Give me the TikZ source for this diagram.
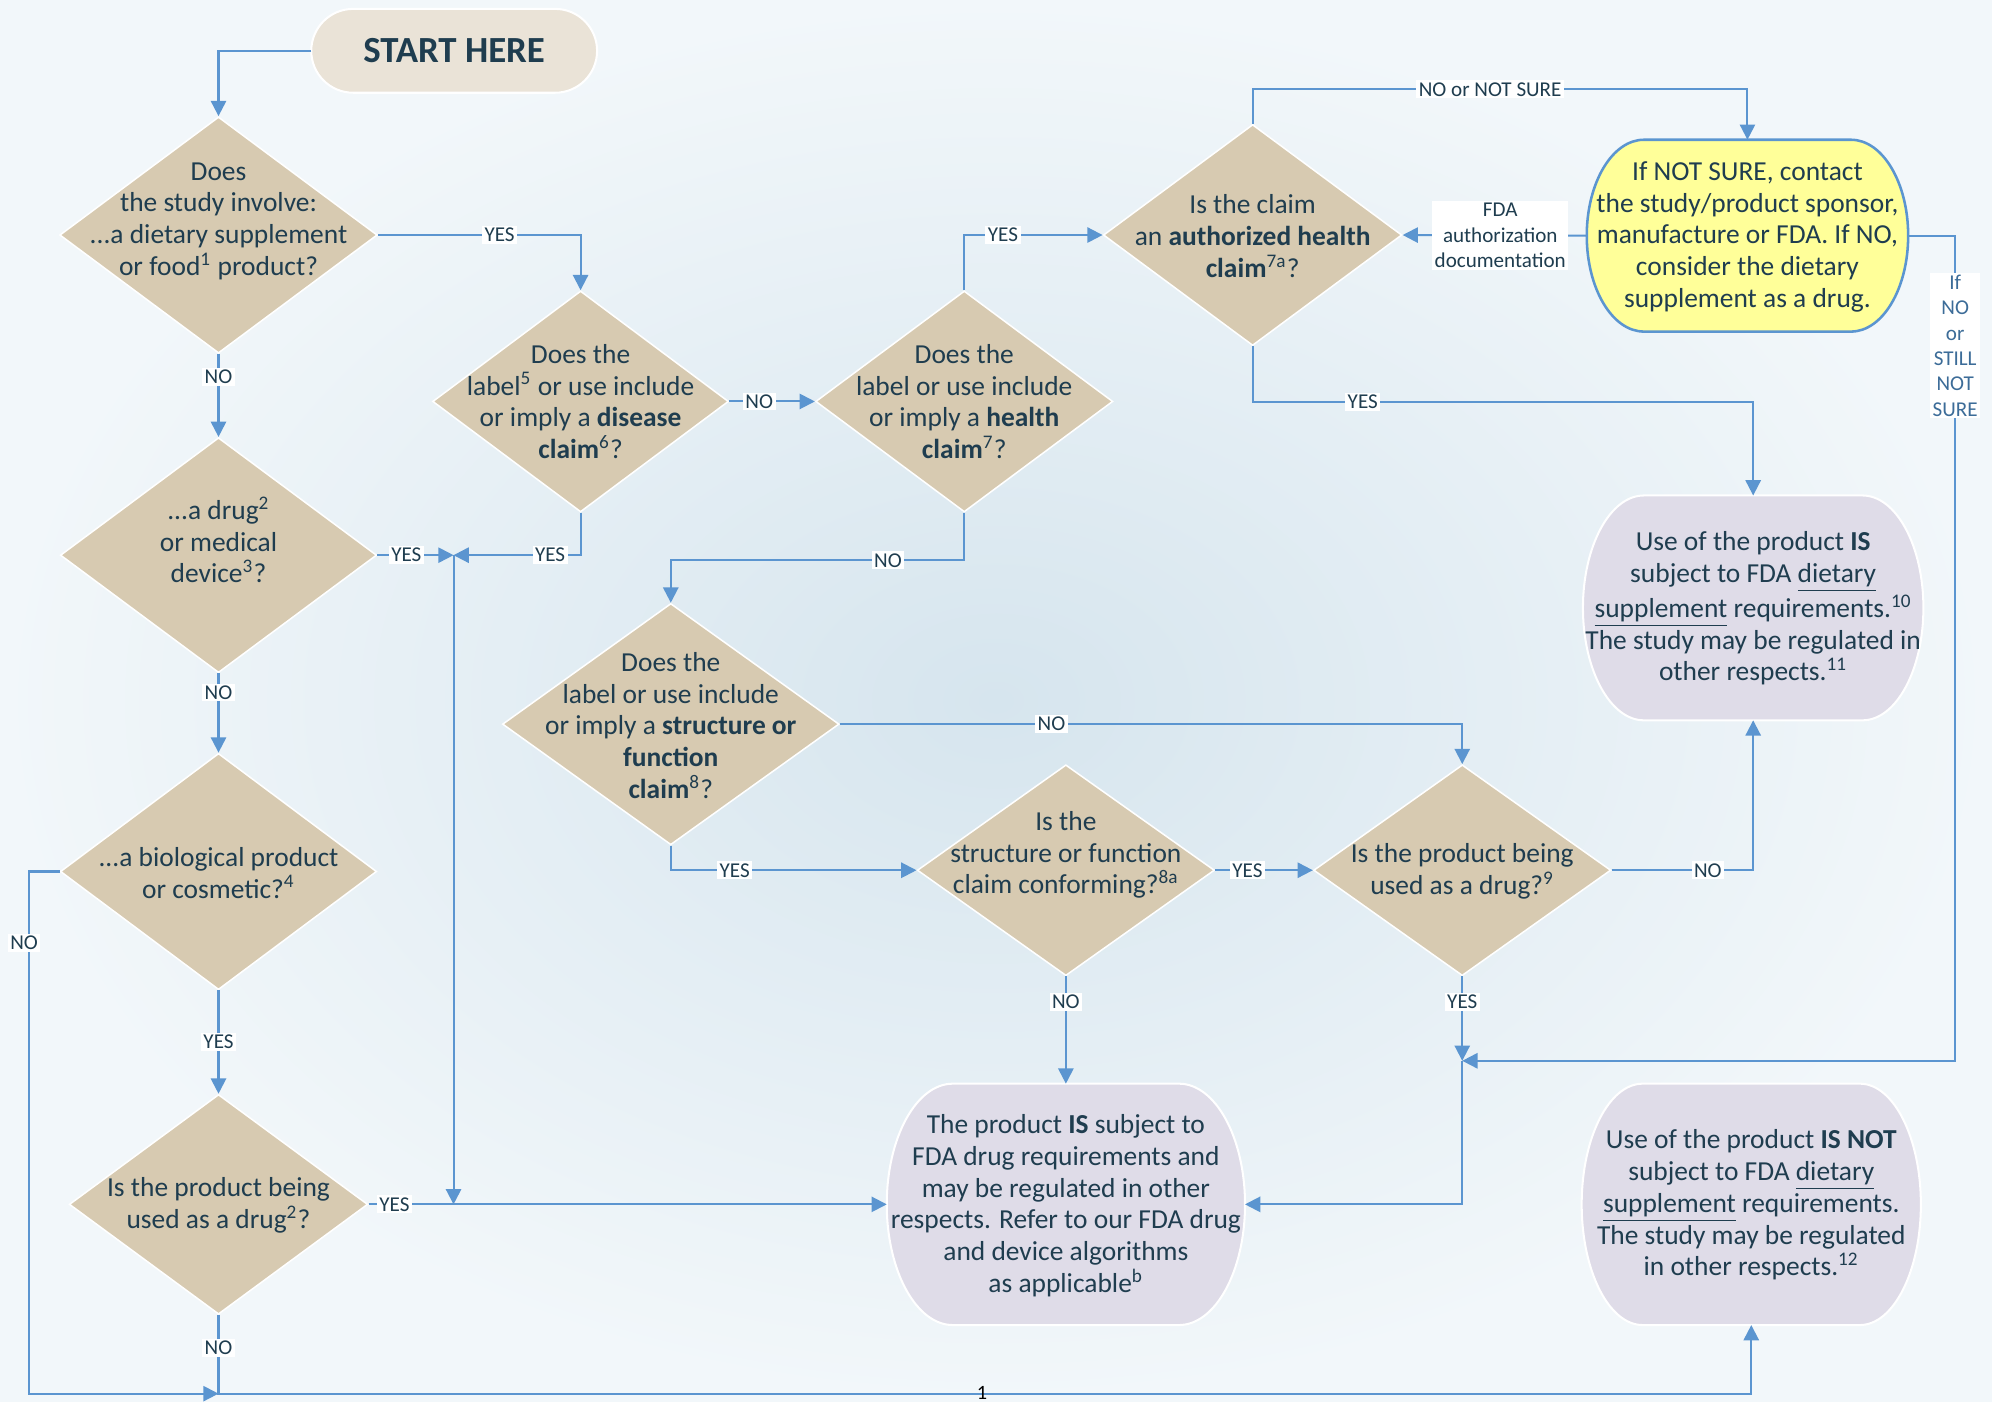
\documentclass[tikz,border=0pt]{standalone}
\usepackage{fontspec}
\setmainfont{Carlito}
\usetikzlibrary{shapes.geometric,arrows.meta,calc}
\definecolor{txtc}{HTML}{1F3D4F}
\definecolor{lnc}{HTML}{5B95D0}
\definecolor{tanc}{HTML}{D7CAB1}
\definecolor{startc}{HTML}{EAE3D7}
\definecolor{lavc}{HTML}{DFDCE8}
\definecolor{yelc}{HTML}{FFFF99}
\definecolor{bgin}{HTML}{D6E5EE}
\definecolor{bgout}{HTML}{F2F7FA}
\definecolor{lblue}{HTML}{3C6C98}
\newcommand\stadpath[6]{\path[#1] ({#2+#6},#3) -- ({#4-#6},#3) arc[start angle=-90,end angle=90,x radius=#6,y radius={(#5-#3)/2}] -- ({#2+#6},#5) arc[start angle=90,end angle=270,x radius=#6,y radius={(#5-#3)/2}] -- cycle;}
\begin{document}
\begin{tikzpicture}[x=0.5pt,y=-0.5pt,
  dia/.style={diamond, fill=tanc, draw=white, line width=0.6pt, inner sep=0pt},
  hold/.style={rectangle, inner sep=0pt, outer sep=0pt},
  txt/.style={align=center, text=txtc, inner sep=0pt, font=\fontsize{10.8}{12.5}\selectfont},
  lab/.style={fill=white, text=txtc, inner xsep=1pt, inner ysep=0.8pt, font=\fontsize{8.3}{10}\selectfont},
  arr/.style={draw=lnc, line width=0.8pt, -{Triangle[length=6pt,width=6pt]}}]
\useasboundingbox (0,0) rectangle (1568,1103);
\shade[inner color=bgin, outer color=bgout] (0,0) rectangle (1568,1103);

% stadium outlines
\stadpath{fill=startc, draw=white, line width=0.8pt}{245}{7}{470}{73}{33}
\stadpath{fill=yelc, draw=lnc, line width=1pt}{1249}{110}{1502}{261}{45}
\stadpath{fill=lavc, draw=white, line width=0.8pt}{1246}{390}{1514}{567}{48}
\stadpath{fill=lavc, draw=white, line width=0.8pt}{698}{853}{980}{1043}{52}
\stadpath{fill=lavc, draw=white, line width=0.8pt}{1245}{853}{1512}{1043}{48}

% holder nodes for ovals
\node[hold, minimum width=112.5pt, minimum height=33pt] (start) at (357.5,40) {};
\node[hold, minimum width=126.5pt, minimum height=75.5pt] (yel) at (1375.5,185.5) {};
\node[hold, minimum width=134pt, minimum height=88.5pt] (isds) at (1380,478.5) {};
\node[hold, minimum width=141pt, minimum height=95pt] (drug) at (839,948) {};
\node[hold, minimum width=133.5pt, minimum height=95pt] (isnot) at (1378.5,948) {};

% diamonds
\node[dia, minimum width=125pt, minimum height=93pt] (d1) at (172,185) {};
\node[dia, minimum width=124.5pt, minimum height=92.5pt] (d2) at (172,437) {};
\node[dia, minimum width=124.5pt, minimum height=93pt] (d3) at (172,686) {};
\node[dia, minimum width=117.5pt, minimum height=86.5pt] (d4) at (172,948) {};
\node[dia, minimum width=116.5pt, minimum height=87pt] (d5) at (457,316) {};
\node[dia, minimum width=117pt, minimum height=87pt] (d6) at (759,316) {};
\node[dia, minimum width=117.5pt, minimum height=87pt] (d7) at (986,185) {};
\node[dia, minimum width=132.5pt, minimum height=95pt] (d8) at (528,570) {};
\node[dia, minimum width=117pt, minimum height=83pt] (d9) at (839,685) {};
\node[dia, minimum width=117pt, minimum height=83pt] (d10) at (1151,685) {};

% texts
\node[txt, font=\bfseries\fontsize{14.5}{17}\selectfont] (startt) at (357.5,40) {START HERE};
\node[txt] (d1t) at (172,174) {Does\\the study involve:\\...a dietary supplement\\or food\textsuperscript{1} product?};
\node[txt] (d2t) at (172,425) {...a drug\textsuperscript{2}\\or medical\\device\textsuperscript{3}?};
\node[txt] (d3t) at (172,687) {...a biological product\\or cosmetic?\textsuperscript{4}};
\node[txt] (d4t) at (172,949) {Is the product being\\used as a drug\textsuperscript{2}?};
\node[txt] (d5t) at (457,316) {Does the\\label\textsuperscript{5} or use include\\or imply a \textbf{disease}\\\textbf{claim}\textsuperscript{6}?};
\node[txt] (d6t) at (759,316) {Does the\\label or use include\\or imply a \textbf{health}\\\textbf{claim}\textsuperscript{7}?};
\node[txt] (d7t) at (986,186) {Is the claim\\an \textbf{authorized health}\\\textbf{claim}\textsuperscript{7a}?};
\node[txt] (yelt) at (1375.5,186.5) {If NOT SURE, contact\\the study/product sponsor,\\manufacture or FDA. If NO,\\consider the dietary\\supplement as a drug.};
\node[txt] (isdst) at (1380,479) {Use of the product \textbf{IS}\\subject to FDA \underline{dietary}\\\underline{supplement} requirements.\textsuperscript{10}\\The study may be regulated in\\other respects.\textsuperscript{11}};
\node[txt] (d8t) at (528,571) {Does the\\label or use include\\or imply a \textbf{structure or}\\\textbf{function}\\\textbf{claim}\textsuperscript{8}?};
\node[txt] (d9t) at (839,673) {Is the\\structure or function\\claim conforming?\textsuperscript{8a}};
\node[txt] (d10t) at (1151,686) {Is the product being\\used as a drug?\textsuperscript{9}};
\node[txt] (drugt) at (839,949) {The product \textbf{IS} subject to\\FDA drug requirements and\\may be regulated in other\\respects. Refer to our FDA drug\\and device algorithms\\as applicable\textsuperscript{b}};
\node[txt] (isnott) at (1378.5,948.5) {Use of the product \textbf{IS NOT}\\subject to FDA \underline{dietary}\\\underline{supplement} requirements.\\The study may be regulated\\in other respects.\textsuperscript{12}};

% junctions
\coordinate (jn) at (357,437);
\coordinate (jv) at (357,948);
\coordinate (jb) at (172,1097);
\coordinate (jy) at (1151,835);
\coordinate (cm) at (528,441);

% connectors
\draw[arr] (start.west) -| (d1.north);
\draw[arr] (d1.east) -| node[lab,pos=0.3]{YES} (d5.north);
\draw[arr] (d1.south) -- node[lab,pos=0.28]{NO} (d2.north);
\draw[arr] (d2.east) -- node[lab,pos=0.38]{YES} (jn);
\draw[arr] (d5.south) |- node[lab,pos=0.62]{YES} (jn);
\draw[arr] (jn) -- (jv);
\draw[arr] (d4.east) -- node[lab,pos=0.05]{YES} (drug.west);
\draw[arr] (d2.south) -- node[lab,pos=0.24]{NO} (d3.north);
\draw[arr] (d3.south) -- node[lab,pos=0.5]{YES} (d4.north);
\draw[arr] (d3.west) -- ++(-24,0) |- (jb);
\node[lab] (noL) at (19,742) {NO};
\draw[arr] (d4.south) -- node[lab,pos=0.42]{NO} (jb) -| (isnot.south);
\draw[arr] (d5.east) -- node[lab,pos=0.35]{NO} (d6.west);
\draw[arr] (d6.north) |- node[lab,pos=0.64]{YES} (d7.west);
\draw[arr] (d6.south) |- node[lab,pos=0.63]{NO} (cm) -- (d8.north);
\draw[arr] (d7.north) -- ++(0,-27) -| node[lab,pos=0.24]{NO or NOT SURE} (yel.north);
\draw[arr] (yel.west) -- node[lab,pos=0.47,align=center]{FDA\\authorization\\documentation} (d7.east);
\draw[arr] (d7.south) -- ++(0,44) -| node[lab,pos=0.11]{YES} (isds.north);
\draw[arr] (yel.east) -- ++(37,0) |- (jy);
\node[lab, text=lblue, align=center] (ifno) at (1539,272) {If\\NO\\or\\STILL\\NOT\\SURE};
\draw[arr] (d8.east) -| node[lab,pos=0.17]{NO} (d10.north);
\draw[arr] (d8.south) |- node[lab,pos=0.63]{YES} (d9.west);
\draw[arr] (d9.east) -- node[lab,pos=0.33]{YES} (d10.west);
\draw[arr] (d10.east) -| node[lab,pos=0.34]{NO} (isds.south);
\draw[arr] (d10.south) -- node[lab,pos=0.3]{YES} (jy);
\draw[arr] (jy) |- (drug.east);
\draw[arr] (d9.south) -- node[lab,pos=0.24]{NO} (drug.north);
\node[font=\fontsize{8}{9}\selectfont, text=black, inner sep=0pt, anchor=south] (pg) at (773,1102) {1};
\end{tikzpicture}
\end{document}
